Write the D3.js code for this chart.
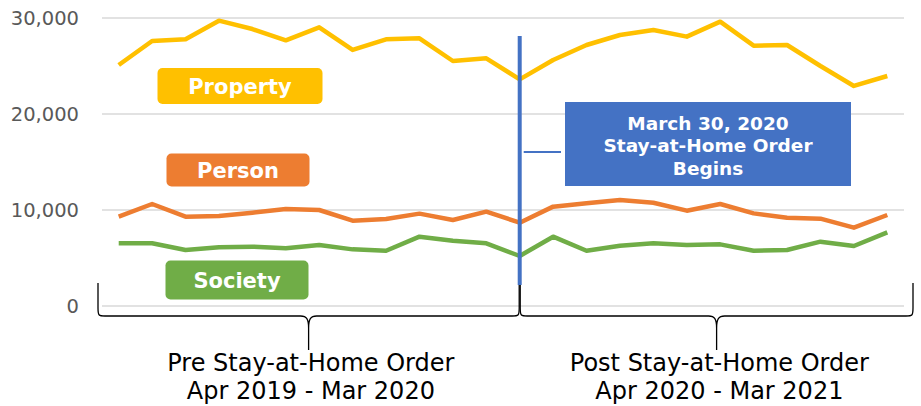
<!DOCTYPE html>
<html><head><meta charset="utf-8">
<script src="https://cdn.jsdelivr.net/npm/d3@7"></script>
<style>body{margin:0;background:#fff}svg{display:block}</style>
</head><body><svg id="c" width="921" height="406"></svg>
<script>
const months = ["Apr 2019","May 2019","Jun 2019","Jul 2019","Aug 2019","Sep 2019","Oct 2019","Nov 2019","Dec 2019","Jan 2020","Feb 2020","Mar 2020",
                "Apr 2020","May 2020","Jun 2020","Jul 2020","Aug 2020","Sep 2020","Oct 2020","Nov 2020","Dec 2020","Jan 2021","Feb 2021","Mar 2021"];
const property = [25100,27600,27780,29720,28850,27670,29030,26670,27780,27880,25520,25800,23610,25625,27190,28230,28750,28060,29620,27120,27190,25000,22920,23960];
const person   = [9300,10625,9300,9375,9720,10100,10000,8890,9060,9620,8960,9830,8680,10350,10700,11040,10760,9930,10625,9650,9200,9100,8160,9480];
const society  = [6530,6530,5830,6110,6180,6010,6350,5900,5760,7220,6800,6530,5210,7220,5760,6280,6530,6350,6420,5760,5830,6700,6250,7670];
const yTicks = [0,10000,20000,30000];
const seriesNames = ["Property","Person","Society"];
const seriesColors = ["#FFC000","#ED7D31","#70AD47"];
const orderDate = "Apr 2020";
const annotationLines = ["March 30, 2020","Stay-at-Home Order","Begins"];
const periodLabels = [["Pre Stay-at-Home Order","Apr 2019 - Mar 2020"],["Post Stay-at-Home Order","Apr 2020 - Mar 2021"]];

const svg = d3.select("#c");
const x = d3.scalePoint().domain(months).range([102,904]).padding(0.5);
const y = d3.scaleLinear().domain([0,30000]).range([306,18]);
const font = "'DejaVu Sans', Verdana, sans-serif";

// gridlines
svg.append("g").selectAll("line").data(yTicks).join("line")
  .attr("x1",102).attr("x2",904).attr("y1",d=>y(d)).attr("y2",d=>y(d))
  .attr("stroke","#D9D9D9").attr("stroke-width",1.5);

// y axis labels
const yAxis = d3.axisLeft(y).tickValues(yTicks).tickFormat(d3.format(",")).tickSize(0).tickPadding(0);
const ga = svg.append("g").attr("transform","translate(79,0)").call(yAxis);
ga.select(".domain").remove();
ga.selectAll("text").attr("font-family",font).attr("font-size",19.5).attr("fill","#595959");

// braces
function brace(x0,x1,yTop,yBot,yTip){
  const m=(x0+x1)/2;
  return `M${x0},${yTop} L${x0},${yBot-8} C${x0},${yBot} ${x0+1},${yBot} ${x0+7},${yBot} L${m-8},${yBot} C${m-2},${yBot} ${m},${yBot+3} ${m},${yBot+12} L${m},${yTip}`+
         ` M${m},${yBot+12} C${m},${yBot+3} ${m+2},${yBot} ${m+8},${yBot} L${x1-7},${yBot} C${x1-1},${yBot} ${x1},${yBot} ${x1},${yBot-8} L${x1},${yTop}`;
}
const bx = [98, x(orderDate), 913];
svg.append("path").attr("d",brace(bx[0],bx[1]-0.5,283,316,350)).attr("fill","none").attr("stroke","#000").attr("stroke-width",1.3);
svg.append("path").attr("d",brace(bx[1]+0.5,bx[2],283,316,350)).attr("fill","none").attr("stroke","#000").attr("stroke-width",1.3);

// lines
const line = d3.line().x((d,i)=>x(months[i])).y(d=>y(d));
[property,person,society].forEach((s,k)=>{
  svg.append("path").datum(s).attr("d",line).attr("fill","none")
    .attr("stroke",seriesColors[k]).attr("stroke-width",4.5).attr("stroke-linejoin","round");
});

// series label boxes
const boxes = [{cx:240,cy:86,w:165,h:36},{cx:238,cy:170,w:143,h:33},{cx:237,cy:280,w:143,h:39}];
boxes.forEach((b,k)=>{
  svg.append("rect").attr("x",b.cx-b.w/2).attr("y",b.cy-b.h/2).attr("width",b.w).attr("height",b.h)
    .attr("rx",5).attr("fill",seriesColors[k]);
  svg.append("text").attr("x",b.cx).attr("y",b.cy+7.5).attr("text-anchor","middle")
    .attr("font-family",font).attr("font-weight","bold").attr("font-size",21).attr("fill","#fff")
    .text(seriesNames[k]);
});

// order vertical line
svg.append("line").attr("x1",x(orderDate)).attr("x2",x(orderDate)).attr("y1",36).attr("y2",285)
  .attr("stroke","#4472C4").attr("stroke-width",4);
// connector
svg.append("line").attr("x1",x(orderDate)+4).attr("x2",561).attr("y1",152).attr("y2",152)
  .attr("stroke","#4472C4").attr("stroke-width",2);
// annotation box
svg.append("rect").attr("x",565).attr("y",102).attr("width",286).attr("height",84).attr("fill","#4472C4");
svg.append("g").selectAll("text").data(annotationLines).join("text")
  .attr("x",708).attr("y",(d,i)=>129.5+i*22.5).attr("text-anchor","middle")
  .attr("font-family",font).attr("font-weight","bold").attr("font-size",18.5).attr("fill","#fff")
  .text(d=>d);

// period labels
const pcx = [(bx[0]+bx[1])/2+2, (bx[1]+bx[2])/2+3];
periodLabels.forEach((ls,k)=>{
  svg.append("g").selectAll("text").data(ls).join("text")
    .attr("x",pcx[k]).attr("y",(d,i)=>371+i*28).attr("text-anchor","middle")
    .attr("font-family",font).attr("font-size",24).attr("fill","#000").text(d=>d);
});
</script></body></html>
